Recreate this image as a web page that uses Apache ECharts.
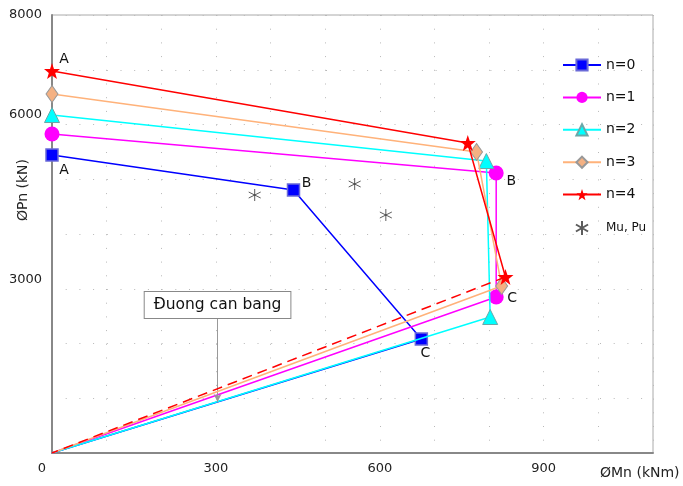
<!DOCTYPE html>
<html><head><meta charset="utf-8">
<script src="https://cdn.jsdelivr.net/npm/echarts@6/dist/echarts.min.js"></script>
<style>html,body{margin:0;padding:0;background:#fff}#c{width:683px;height:486px}</style>
</head><body><div id="c"></div>
<script>
// Data (Mn in kNm, Pn in kN)
const seriesNames = ['n=0','n=1','n=2','n=3','n=4'];
const pointLabels = ['A','B','C',''];
const n0Mn = [0, 442, 676, 0];  const n0Pn = [5443, 4804, 2082, 0];
const n1Mn = [0, 813, 813, 0];  const n1Pn = [5826, 5114, 2849, 0];
const n2Mn = [0, 795, 802, 0];  const n2Pn = [6173, 5333, 2484, 0];
const n3Mn = [0, 777, 823, 0];  const n3Pn = [6557, 5498, 3050, 0];
const n4Mn = [0, 761, 830];     const n4Pn = [6977, 5662, 3215];
const n4LinkMn = [830, 0];      const n4LinkPn = [3215, 0];
const muMn = [371, 554, 611];   const muPu = [4712, 4913, 4347];
const xTickLabels = [0, 300, 600, 900];
const yTickLabels = [3000, 6000, 8000];
const annotText = 'Đuong can bang';
const annotMn = 303; const annotBoxPn = 2703; const annotTopPn = 2447; const annotTipPn = 931;

const FONT = 'DejaVu Sans';
const colors = ['#0000ff','#ff00ff','#00ffff','#ffb27a','#ff0000'];
const symbols = ['rect','circle','triangle','diamond','path://M0,-10 L2.35,-3.24 L9.51,-3.09 L3.8,1.24 L5.88,8.09 L0,4 L-5.88,8.09 L-3.8,1.24 L-9.51,-3.09 L-2.35,-3.24 Z'];
const symSizes = [12, 15, 15, [12,17], 16];
const markerStyle = [
  {color:'#0000ff', borderColor:'#6a6ad8', borderWidth:1.5},
  {color:'#ff00ff'},
  {color:'#00ffff', borderColor:'#6aa8a8', borderWidth:1},
  {color:'#f4b183', borderColor:'#999999', borderWidth:1},
  {color:'#ff0000'}
];
const labelShow = [[1,1,1],[0,1,1],[0,0,0],[0,0,0],[1,0,0]];
const labelOffsets = [
  [[12,15],[13,-7],[4,14]],
  [[0,0],[15,8],[16,1]],
  [[0,0],[0,0],[0,0]],
  [[0,0],[0,0],[0,0]],
  [[12,-12],[0,0],[0,0]]
];
const MN = [n0Mn,n1Mn,n2Mn,n3Mn,n4Mn];
const PN = [n0Pn,n1Pn,n2Pn,n3Pn,n4Pn];

const series = [];
for (let s = 0; s < 5; s++) {
  const data = MN[s].map((x, i) => {
    const item = {value:[x, PN[s][i]]};
    if (i === 3) { item.symbol = 'none'; }
    else if (labelShow[s][i]) {
      item.label = {show:true, formatter: pointLabels[i], position:'inside', offset: labelOffsets[s][i],
        color:'#111', fontSize:14, fontFamily:FONT};
    }
    return item;
  });
  series.push({
    name: seriesNames[s], type:'line', data, symbol: symbols[s], symbolSize: symSizes[s],
    lineStyle:{color:colors[s], width:1.5}, itemStyle: markerStyle[s], color: colors[s],
    label:{show:false}, z: 2 + s, animation:false, emphasis:{disabled:true}
  });
}
series.push({
  name:'n4link', type:'line', data: n4LinkMn.map((x,i)=>[x,n4LinkPn[i]]), symbol:'none',
  lineStyle:{color:'#ff0000', width:1.5, type:[10,6]}, z:6, animation:false
});
series.push({
  name:'Mu, Pu', type:'scatter', data: muMn.map((x,i)=>[x,muPu[i]]),
  symbol:'path://M0,-6 L0,6 M-5.2,-3 L5.2,3 M-5.2,3 L5.2,-3', symbolSize:12,
  itemStyle:{color:'rgba(0,0,0,0)', borderColor:'#333', borderWidth:1}, z:8, animation:false
});
series.push({
  name:'annot', type:'line', data:[], animation:false,
  markLine:{silent:true, symbol:['none','arrow'], symbolSize:[6,8],
    lineStyle:{color:'#999', type:'solid', width:1}, label:{show:false},
    data:[[{coord:[annotMn, annotTopPn]},{coord:[annotMn, annotTipPn]}]]}
});

const chart = echarts.init(document.getElementById('c'));
const dotted = {show:true, lineStyle:{color:'#b8b8b8', width:1, type:[1,12.7]}};
const titles = [
  {type:'text', left:600, top:466, style:{text:'ØMn (kNm)', font:'14px "DejaVu Sans"', fill:'#222'}},
  {type:'text', x:23, y:190, rotation:Math.PI/2, style:{text:'ØPn (kN)', font:'14px "DejaVu Sans"', fill:'#222', align:'center', verticalAlign:'middle'}}
];
chart.setOption({
  animation:false,
  grid:{left:52, right:30, top:15, bottom:33, show:true, borderColor:'#aaaaaa', borderWidth:1},
  xAxis:{type:'value', min:0, max:1100, interval:100,
    axisLine:{show:true, lineStyle:{color:'#888', width:2}}, axisTick:{show:false},
    splitLine: dotted,
    axisLabel:{margin:9, color:'#222', fontSize:13, fontFamily:FONT,
      formatter: v => xTickLabels.indexOf(v) >= 0 ? (v === 0 ? '{z|0}' : String(v)) : '',
      rich:{z:{padding:[0,20,0,0], fontSize:13, fontFamily:FONT, color:'#222'}}}},
  yAxis:{type:'value', min:0, max:8000, interval:1000,
    axisLine:{show:true, lineStyle:{color:'#888', width:2}}, axisTick:{show:false},
    splitLine: dotted,
    axisLabel:{margin:10, color:'#222', fontSize:13, fontFamily:FONT,
      formatter: v => yTickLabels.indexOf(v) >= 0 ? (v === 8000 ? String(v) : '{u|' + v + '}') : '',
      rich:{u:{padding:[0,0,19,0], fontSize:13, fontFamily:FONT, color:'#222'}}}},
  legend:{left:557, top:53, orient:'vertical', itemWidth:38, itemHeight:14, itemGap:18.4,
    textStyle:{fontSize:14, fontFamily:FONT, color:'#111'},
    data:[...seriesNames.map(n=>({name:n})), {name:'Mu, Pu', textStyle:{fontSize:12}}]},
  graphic: titles,
  series
});
const p = chart.convertToPixel({gridIndex:0}, [annotMn, annotBoxPn]);
chart.setOption({graphic:[
  ...titles,
  {type:'text', x:p[0], y:p[1], z:20, style:{text:annotText, font:'15.5px "DejaVu Sans"', fill:'#111', align:'center', verticalAlign:'middle',
    backgroundColor:'#fff', borderColor:'#888', borderWidth:1, padding:[5,9,5,9]}}
]});
</script></body></html>
